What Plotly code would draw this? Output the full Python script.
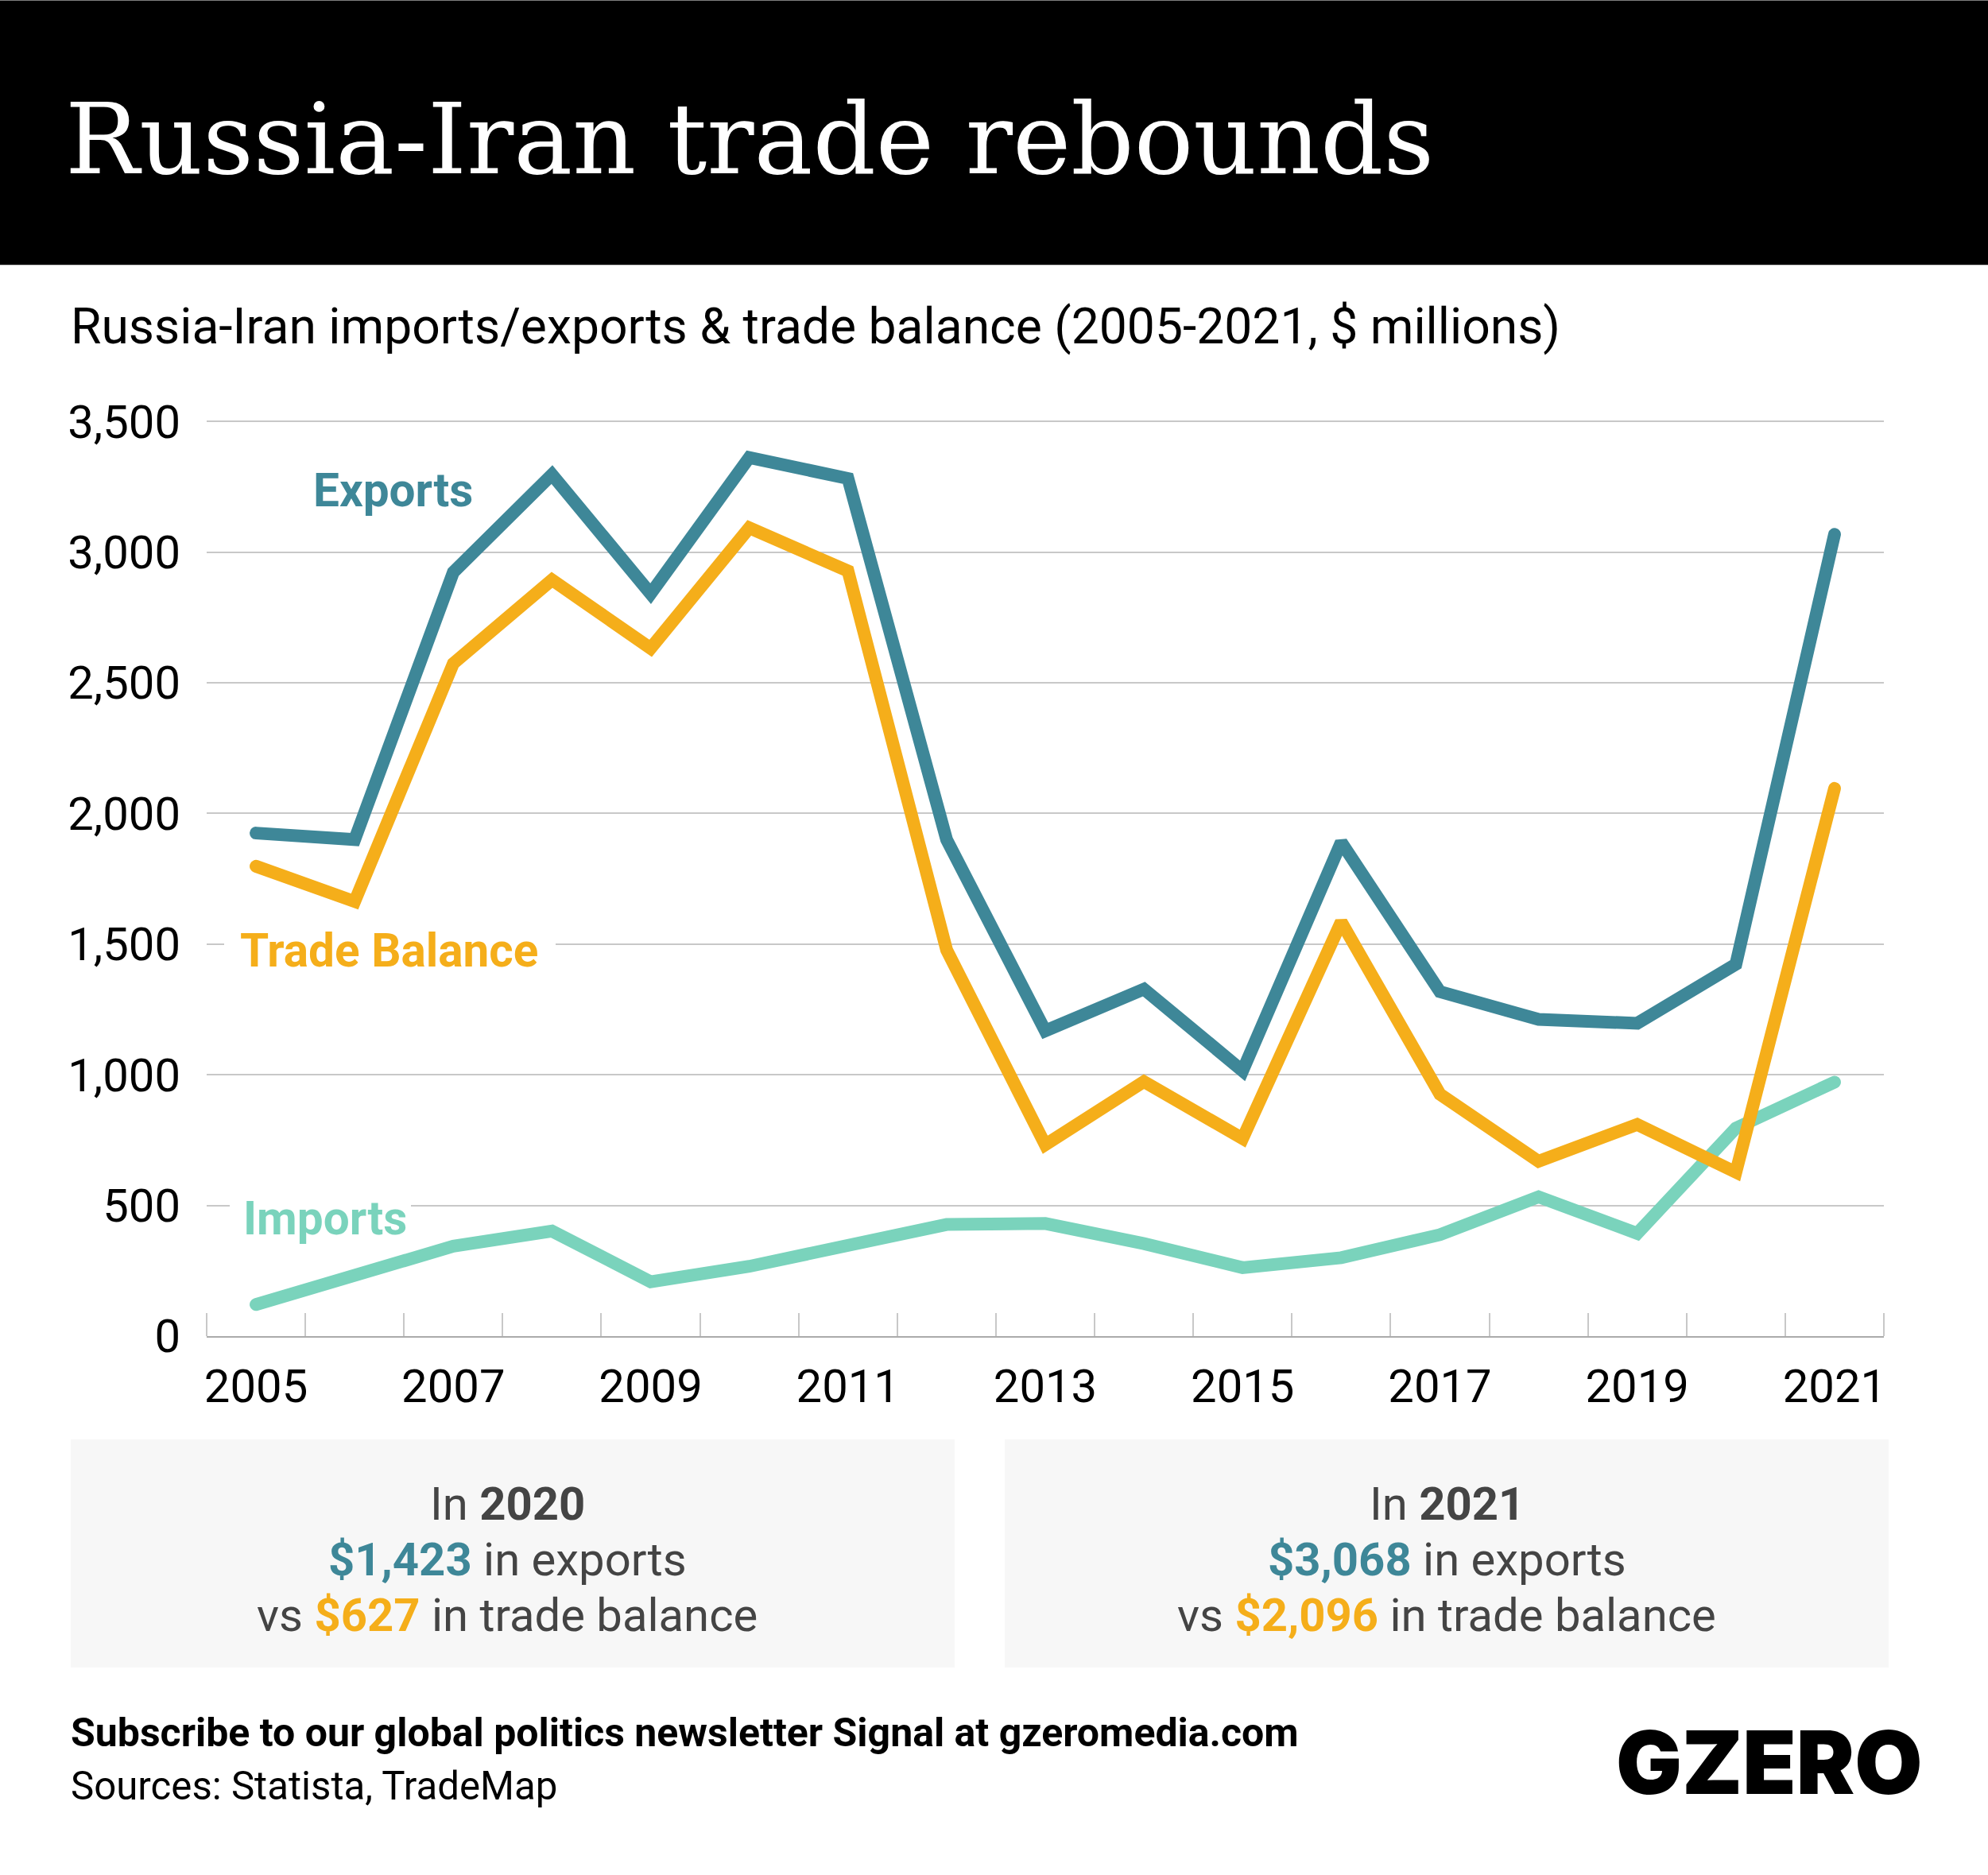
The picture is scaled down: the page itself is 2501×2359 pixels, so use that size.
import plotly.graph_objects as go

years = list(range(2005, 2022))
exports = [1925, 1900, 2923, 3297, 2841, 3362, 3282, 1900, 1168, 1328, 1015, 1890, 1318, 1212, 1197, 1423, 3068]
trade_balance = [1798, 1663, 2574, 2894, 2632, 3093, 2928, 1478, 732, 974, 756, 1585, 926, 669, 810, 627, 2096]
imports = [121, 238, 344, 402, 208, 267, 349, 427, 431, 354, 262, 300, 388, 533, 393, 796, 972]
x_labels = [2005, 2007, 2009, 2011, 2013, 2015, 2017, 2019, 2021]
y_ticks = [0, 500, 1000, 1500, 2000, 2500, 3000, 3500]

TEAL = "#3E8798"
YELLOW = "#F5AE1A"
MINT = "#7AD3BC"
GREY_TEXT = "#444444"
SANS = "Roboto"

W, H = 2501, 2359
# top sits a hair above the 3,500 gridline so plotly still draws that line
LEFT, RIGHT, TOP, BOTTOM = 260, 2370, 526.7, 1681


def px_x(v):
    return (v - LEFT) / (RIGHT - LEFT)


def px_y(v):
    return (BOTTOM - v) / (BOTTOM - TOP)


def note(text, x, y, size, color="black", xanchor="left", family=SANS, weight=None):
    return dict(
        text=text, x=px_x(x), y=px_y(y), xref="paper", yref="paper",
        xanchor=xanchor, yanchor="middle", showarrow=False,
        font=dict(family=family, size=size, color=color, weight=weight),
    )


def box(x0, y0, x1, y1, color, layer="below"):
    return dict(
        type="rect", xref="paper", yref="paper", layer=layer, line_width=0, fillcolor=color,
        x0=px_x(x0), x1=px_x(x1), y0=px_y(y0), y1=px_y(y1),
    )


def callout(cx, year, exp, bal):
    lines = [
        (1892, f"In <b>{year}</b>"),
        (1962, f"<b><span style='color:{TEAL}'>${exp:,}</span></b> in exports"),
        (2032, f"vs <b><span style='color:{YELLOW}'>${bal:,}</span></b> in trade balance"),
    ]
    return [note(text, cx, y, 58, GREY_TEXT, "center") for y, text in lines]


fig = go.Figure()
for name, values, color in [("Imports", imports, MINT), ("Exports", exports, TEAL), ("Trade Balance", trade_balance, YELLOW)]:
    fig.add_trace(go.Scatter(x=years, y=values, name=name, mode="lines", line=dict(color=color, width=16)))

fig.update_layout(
    width=W, height=H, showlegend=False, hovermode=False,
    paper_bgcolor="white", plot_bgcolor="white",
    margin=dict(l=LEFT, r=W - RIGHT, t=TOP, b=H - BOTTOM, autoexpand=False),
    shapes=[
        box(0, 0, W, 333, "black"),
        box(89, 1811, 1201, 2098, "#F7F7F7"),
        box(1264, 1811, 2376, 2098, "#F7F7F7"),
        # gaps in the gridlines behind the series labels
        box(282, 1183, 699, 1193, "white", "above"),
        box(289, 1513, 517, 1523, "white", "above"),
    ],
    annotations=[
        note("Russia-Iran trade rebounds", 80, 175, 124, "white", family="DejaVu Serif"),
        note("Russia-Iran imports/exports &amp; trade balance (2005-2021, $ millions)", 87, 410, 62.4),
        note("<b>Exports</b>", 494, 617, 58.5, TEAL, "center"),
        note("<b>Trade Balance</b>", 489, 1196, 58.5, YELLOW, "center"),
        note("<b>Imports</b>", 409, 1533, 58.5, MINT, "center"),
        *callout(638, 2020, exports[15], trade_balance[15]),
        *callout(1820, 2021, exports[16], trade_balance[16]),
        note("<b>Subscribe to our global politics newsletter Signal at gzeromedia.com</b>", 87, 2180, 50),
        note("Sources: Statista, TradeMap", 87, 2247, 49.2),
        note("GZERO", 2421, 2217, 110, "black", "right", family="Inter", weight=900),
    ],
)

fig.update_xaxes(
    range=[2004.5, 2021.5], tickmode="array", tickvals=x_labels, ticks="", ticklabelstandoff=11,
    tickfont=dict(family=SANS, size=58, color="black"), showgrid=False, zeroline=False,
    showline=True, linecolor="#ABABAB", linewidth=2,
    minor=dict(ticks="inside", tick0=2004.5, dtick=1, ticklen=29, tickcolor="#C8C8C8", tickwidth=2, showgrid=False),
)
fig.update_yaxes(
    range=[0, 3510], tickmode="array", tickvals=y_ticks, tickformat=",", ticks="", ticklabelstandoff=32,
    tickfont=dict(family=SANS, size=58, color="black"), gridcolor="#C8C8C8", gridwidth=2,
    zeroline=False, showline=False,
)

round_caps = "document.body.style.margin='0';document.querySelectorAll('.js-line').forEach(function(p){p.style.strokeLinecap='round';});"
fig.write_html("out.html", config={"displayModeBar": False}, post_script=round_caps)
